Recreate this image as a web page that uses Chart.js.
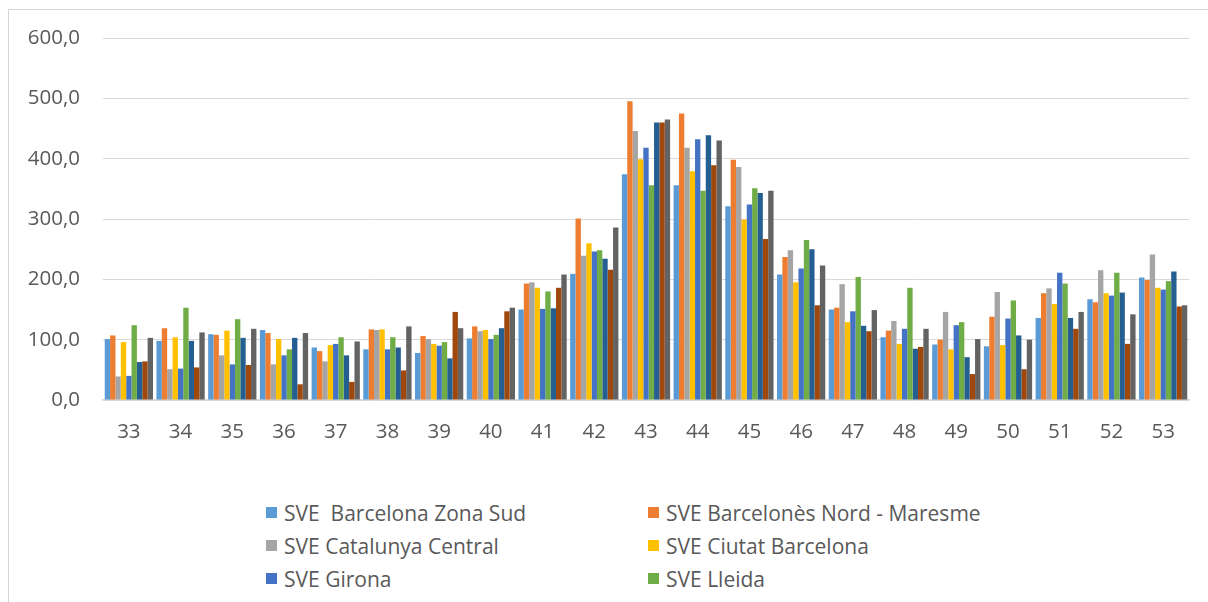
<!DOCTYPE html>
<html>
<head>
<meta charset="utf-8">
<script src="https://cdn.jsdelivr.net/npm/chart.js@4.4.1/dist/chart.umd.min.js"></script>
<style>
  html, body { margin: 0; padding: 0; background: #fff; overflow: hidden; }
  body { width: 1208px; height: 602px; position: relative; }
  #frame {
    position: absolute; left: 8px; top: 9px; width: 1400px; height: 800px;
    border-left: 1px solid #d6d6d6; border-top: 1px solid #d6d6d6;
  }
  #chart { position: absolute; left: 0; top: 0; }
  #legend {
    position: absolute; left: 266px; top: 500px;
    display: grid; grid-template-columns: 382px auto; row-gap: 8px;
    font-family: "Open Sans", "Noto Sans", sans-serif; font-size: 21px; color: #595959;
  }
  .item { display: flex; align-items: center; height: 25px; white-space: pre; }
  .box { width: 11px; height: 11px; margin-right: 7px; flex: none; }
</style>
</head>
<body>
<div id="frame"></div>
<canvas id="chart" width="1208" height="470"></canvas>
<div id="legend"></div>
<script>
// Weekly incidence per epidemiological surveillance service, weeks 33-53
const weeks = ['33','34','35','36','37','38','39','40','41','42','43','44','45','46','47','48','49','50','51','52','53'];

const seriesNames = [
  'SVE  Barcelona Zona Sud',
  'SVE Barcelonès Nord - Maresme',
  'SVE Catalunya Central',
  'SVE Ciutat Barcelona',
  'SVE Girona',
  'SVE Lleida',
  'SVE Tarragona',
  "SVE Terres de l'Ebre",
  'SVE Vallès Occidental i Vallès Oriental'
];

const zonaSud        = [101, 98,109,116, 87, 84, 78,102,150,209,374,356,321,208,150,104, 92, 89,136,167,203];
const barcelonesNord = [107,119,108,111, 81,117,106,122,193,301,495,475,398,237,153,115,100,138,177,162,199];
const catalunyaCentral = [39, 51, 74, 59, 64,116,101,114,195,239,446,418,386,248,192,131,146,179,185,215,241];
const ciutatBarcelona = [96,104,115,101, 91,117, 93,116,186,260,399,379,299,195,129, 93, 84, 91,159,177,186];
const girona         = [ 40, 52, 59, 74, 93, 84, 90,101,151,246,418,432,324,218,147,118,124,135,211,173,183];
const lleida         = [124,153,134, 84,104,104, 96,108,180,248,356,347,351,265,204,186,129,165,193,211,197];
const tarragona      = [ 63, 98,103,103, 74, 87, 69,119,152,234,460,439,343,250,123, 85, 71,107,136,178,213];
const terresEbre     = [ 64, 54, 58, 26, 30, 49,146,147,186,216,460,389,267,157,114, 88, 43, 51,118, 93,155];
const valles         = [103,112,118,111, 97,122,119,153,208,286,465,430,347,223,149,118,101,100,146,142,157];

const seriesValues = [zonaSud, barcelonesNord, catalunyaCentral, ciutatBarcelona, girona, lleida, tarragona, terresEbre, valles];
const seriesColors = ['#5B9BD5','#ED7D31','#A5A5A5','#FFC000','#4472C4','#70AD47','#255E91','#9E480E','#636363'];

const yTicks = [0, 100, 200, 300, 400, 500, 600];

const font = { family: '"Open Sans", "Noto Sans", sans-serif', size: 20.5 };

const chart = new Chart(document.getElementById('chart'), {
  type: 'bar',
  data: {
    labels: weeks,
    datasets: seriesNames.map((name, i) => ({
      label: name,
      data: seriesValues[i],
      backgroundColor: seriesColors[i],
      borderWidth: 0,
      categoryPercentage: 0.933,
      barPercentage: 1.0
    }))
  },
  options: {
    responsive: false,
    animation: false,
    layout: { padding: { left: 0, right: 19, top: 38, bottom: 0 } },
    plugins: { legend: { display: false }, tooltip: { enabled: false } },
    scales: {
      x: {
        grid: { display: false },
        border: { display: true, color: '#D9D9D9', width: 1.5 },
        ticks: { color: '#595959', font: font, padding: 12, maxRotation: 0, autoSkip: false },
        afterFit: s => { s.height = 70; }
      },
      y: {
        min: 0,
        max: 600,
        afterBuildTicks: s => { s.ticks = yTicks.map(v => ({ value: v })); },
        grid: { color: '#D9D9D9', lineWidth: 1, drawTicks: false },
        border: { display: false },
        ticks: {
          color: '#595959', font: font, padding: 23,
          callback: v => v.toFixed(1).replace('.', ',')
        },
        afterFit: s => { s.width = 103; }
      }
    }
  }
});

// Two-column legend built from the chart's datasets
const legend = document.getElementById('legend');
chart.data.datasets.forEach(ds => {
  const item = document.createElement('div');
  item.className = 'item';
  const box = document.createElement('span');
  box.className = 'box';
  box.style.background = ds.backgroundColor;
  const txt = document.createElement('span');
  txt.textContent = ds.label;
  item.appendChild(box);
  item.appendChild(txt);
  legend.appendChild(item);
});
</script>
</body>
</html>
